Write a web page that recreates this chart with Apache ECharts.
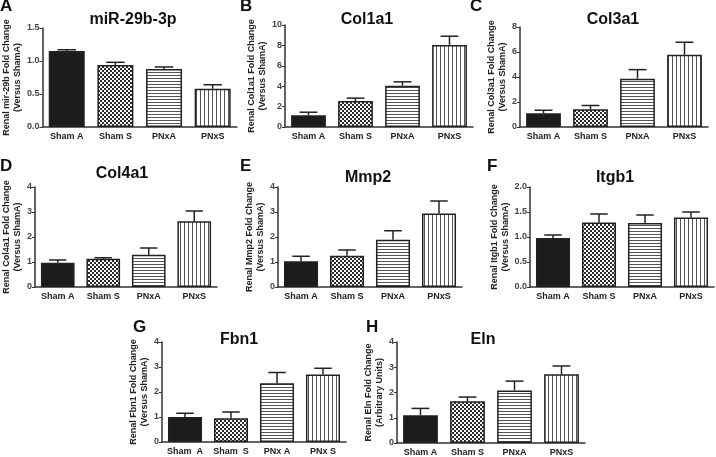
<!DOCTYPE html>
<html>
<head>
<meta charset="utf-8">
<script src="https://cdn.jsdelivr.net/npm/echarts@6/dist/echarts.min.js"></script>
<style>
  html, body { margin: 0; padding: 0; background: #fff; }
  #chart { width: 716px; height: 457px; }
</style>
</head>
<body>
<div id="chart"></div>
<script>
// 分组名称
const groups = ["Sham A", "Sham S", "PNxA", "PNxS"];
const groupsG = ["Sham  A", "Sham  S", "PNx A", "PNx S"];

// 各面板的均值 / SEM
const mir29b = [1.15, 0.94, 0.88, 0.58];
const mir29bSem = [0.02, 0.04, 0.03, 0.06];
const col1a1 = [1.15, 2.55, 4.05, 8.05];
const col1a1Sem = [0.3, 0.28, 0.38, 0.85];
const col3a1 = [1.1, 1.42, 3.87, 5.78];
const col3a1Sem = [0.24, 0.3, 0.72, 1.0];
const col4a1 = [0.97, 1.13, 1.29, 2.63];
const col4a1Sem = [0.11, 0.04, 0.27, 0.41];
const mmp2 = [1.03, 1.25, 1.89, 2.94];
const mmp2Sem = [0.2, 0.23, 0.36, 0.5];
const itgb1 = [0.98, 1.29, 1.28, 1.39];
const itgb1Sem = [0.06, 0.17, 0.16, 0.11];
const fbn1 = [1.0, 0.95, 2.35, 2.7];
const fbn1Sem = [0.15, 0.25, 0.43, 0.25];
const eln = [1.1, 1.65, 2.08, 2.72];
const elnSem = [0.27, 0.17, 0.37, 0.33];

// 面板文字
const letters = ["A", "B", "C", "D", "E", "F", "G", "H"];
const titles = ["miR-29b-3p", "Col1a1", "Col3a1", "Col4a1", "Mmp2", "Itgb1", "Fbn1", "Eln"];
const yNames = [
  "Renal mir-29b Fold Change\n(Versus ShamA)",
  "Renal Col1a1 Fold Change\n(Versus ShamA)",
  "Renal Col3a1 Fold Change\n(Versus ShamA)",
  "Renal Col4a1 Fold Change\n(Versus ShamA)",
  "Renal Mmp2 Fold Change\n(Versus ShamA)",
  "Renal Itgb1 Fold Change\n(Versus ShamA)",
  "Renal Fbn1 Fold Change\n(Versus ShamA)",
  "Renal Eln Fold Change\n(Arbitrary Units)",
];
const yMax = [1.5, 10, 8, 4, 4, 2, 4, 4];
const yStep = [0.5, 2, 2, 1, 1, 0.5, 1, 1];

const means = [mir29b, col1a1, col3a1, col4a1, mmp2, itgb1, fbn1, eln];
const sems = [mir29bSem, col1a1Sem, col3a1Sem, col4a1Sem, mmp2Sem, itgb1Sem, fbn1Sem, elnSem];

// 布局 [left, top, width, height]
const grids = [
  [41, 28, 196, 99],
  [285, 25, 188, 102],
  [520, 27, 188, 100],
  [35, 187, 182, 100],
  [278, 187, 184, 100],
  [530, 187, 184, 100],
  [162, 342, 184, 100],
  [397, 342, 188, 101],
];
const nameGaps = [16, 14, 10, 10, 10, 17, 10, 10];
const letterPos = [[0, -2], [240, -2], [470, -2], [0, 158], [240, 158], [487, 158], [133, 319], [366, 319]];
const titlePos = [[133, 12], [367, 12], [613, 12], [122, 166], [368, 170], [615, 170], [239, 332], [483, 332]];

// 填充图案
function makePattern(kind) {
  const c = document.createElement("canvas");
  const size = kind === "h" ? 3 : 4;
  c.width = size;
  c.height = size;
  const ctx = c.getContext("2d");
  ctx.fillStyle = "#fff";
  ctx.fillRect(0, 0, size, size);
  ctx.fillStyle = "#2a2a2a";
  if (kind === "check") {
    ctx.fillRect(0, 0, 2, 2);
    ctx.fillRect(2, 2, 2, 2);
  } else if (kind === "h") {
    ctx.fillStyle = "#555";
    ctx.fillRect(0, 0, size, 1);
  } else {
    ctx.fillStyle = "#555";
    ctx.fillRect(0, 0, 1, size);
  }
  return { image: c, repeat: "repeat" };
}
const fills = ["#1c1c1c", makePattern("check"), makePattern("h"), makePattern("v")];

const font = "Liberation Sans, Arial, sans-serif";
const axisColor = "#333";

const option = {
  animation: false,
  backgroundColor: "#fff",
  title: [],
  grid: [],
  xAxis: [],
  yAxis: [],
  series: [],
};

means.forEach((vals, i) => {
  const g = grids[i];
  option.title.push({
    text: letters[i],
    left: letterPos[i][0],
    top: letterPos[i][1],
    padding: 0,
    textStyle: { fontFamily: font, fontSize: 17, fontWeight: "bold", color: "#111" },
  });
  option.title.push({
    text: titles[i],
    left: titlePos[i][0],
    top: titlePos[i][1],
    padding: 0,
    textAlign: "center",
    textStyle: { fontFamily: font, fontSize: 16, fontWeight: "bold", color: "#111" },
  });
  option.grid.push({ left: g[0], top: g[1], width: g[2], height: g[3] });
  option.xAxis.push({
    type: "category",
    gridIndex: i,
    data: i === 6 ? groupsG : groups,
    axisLine: { lineStyle: { color: axisColor, width: 1.5 } },
    axisTick: { alignWithLabel: true, length: 3, lineStyle: { color: axisColor } },
    axisLabel: { interval: 0, fontFamily: font, fontSize: 9, fontWeight: "bold", color: "#222", margin: 5 },
  });
  option.yAxis.push({
    type: "value",
    gridIndex: i,
    min: 0,
    max: yMax[i],
    interval: yStep[i],
    name: yNames[i],
    nameLocation: "middle",
    nameGap: nameGaps[i],
    nameTextStyle: { fontFamily: font, fontSize: 9, fontWeight: "bold", color: "#222", lineHeight: 11 },
    splitLine: { show: false },
    axisLine: { show: true, lineStyle: { color: axisColor, width: 1.5 } },
    axisTick: { show: true, length: 3, lineStyle: { color: axisColor } },
    axisLabel: {
      fontFamily: font,
      fontSize: 9,
      fontWeight: "bold",
      color: "#444",
      margin: 3,
      formatter: (v) => (yStep[i] < 1 ? v.toFixed(1) : String(v)),
    },
  });
  option.series.push({
    type: "bar",
    xAxisIndex: i,
    yAxisIndex: i,
    barCategoryGap: "26%",
    data: vals.map((v, j) => ({
      value: v,
      itemStyle: { color: fills[j], borderColor: "#222", borderWidth: 1.5 },
    })),
  });
  // 误差线（只画上半部分）
  option.series.push({
    type: "custom",
    xAxisIndex: i,
    yAxisIndex: i,
    z: 5,
    data: vals.map((v, j) => [j, v, v + sems[i][j]]),
    renderItem: (params, api) => {
      const p0 = api.coord([api.value(0), api.value(1)]);
      const p1 = api.coord([api.value(0), api.value(2)]);
      const hw = api.size([1, 0])[0] * 0.19;
      const style = { stroke: "#222", lineWidth: 1.5 };
      return {
        type: "group",
        children: [
          { type: "line", shape: { x1: p0[0], y1: p0[1], x2: p1[0], y2: p1[1] }, style },
          { type: "line", shape: { x1: p1[0] - hw, y1: p1[1], x2: p1[0] + hw, y2: p1[1] }, style },
        ],
      };
    },
  });
});

const myChart = echarts.init(document.getElementById("chart"), null, { renderer: "canvas" });
myChart.setOption(option);
</script>
</body>
</html>
